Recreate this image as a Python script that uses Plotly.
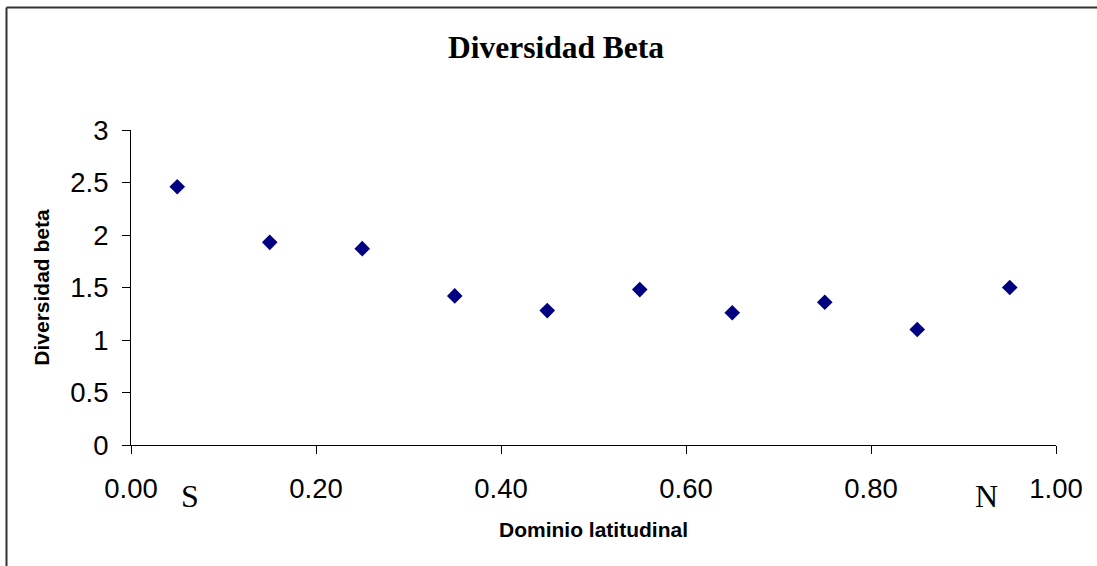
import plotly.graph_objects as go

# Latitudinal domain (class midpoints) and beta diversity values
dominio = [0.05, 0.15, 0.25, 0.35, 0.45, 0.55, 0.65, 0.75, 0.85, 0.95]
diversidad_beta = [2.46, 1.93, 1.87, 1.42, 1.28, 1.48, 1.26, 1.36, 1.10, 1.50]

x_ticks = [0.0, 0.2, 0.4, 0.6, 0.8, 1.0]
x_tick_labels = ["0.00", "0.20", "0.40", "0.60", "0.80", "1.00"]
y_ticks = [0, 0.5, 1, 1.5, 2, 2.5, 3]
y_tick_labels = ["0", "0.5", "1", "1.5", "2", "2.5", "3"]

W, H = 1097, 566
L, R, T, B = 131, 41, 130, 121
pw, ph = W - L - R, H - T - B


def px_x(p):
    return (p - L) / pw


def px_y(p):
    return (H - B - p) / ph


fig = go.Figure()
fig.add_trace(go.Scatter(
    x=dominio, y=diversidad_beta, mode="markers",
    marker=dict(symbol="diamond", size=12, color="#000080",
                line=dict(width=0)),
    showlegend=False, cliponaxis=False,
))

axis_font = dict(family="Liberation Sans, Arial", size=27.5, color="black")
title_font = dict(family="Liberation Sans, Arial", size=21, color="black")

fig.update_layout(
    width=W, height=H,
    margin=dict(l=L, r=R, t=T, b=B),
    paper_bgcolor="white", plot_bgcolor="white",
    title=dict(text="<b>Diversidad Beta</b>", x=px_x(556), xref="paper",
               y=1 - 47 / H, yref="container", xanchor="center", yanchor="middle",
               font=dict(family="Liberation Serif, Times New Roman", size=31.5, color="black")),
    xaxis=dict(range=[0, 1], tickvals=x_ticks, ticktext=x_tick_labels,
               showgrid=False, zeroline=False, showline=True, linecolor="black",
               linewidth=1, ticks="outside", ticklen=8, tickcolor="black",
               tickfont=axis_font, ticklabelstandoff=11,
               title=dict(text="<b>Dominio latitudinal</b>", standoff=19, font=title_font)),
    yaxis=dict(range=[0, 3], tickvals=y_ticks, ticktext=y_tick_labels,
               showgrid=False, zeroline=False, showline=True, linecolor="black",
               linewidth=1, ticks="outside", ticklen=8, tickcolor="black",
               tickfont=axis_font, ticklabelstandoff=8,
               title=dict(text="<b>Diversidad beta</b>", standoff=14, font=title_font)),
)

# Outer frame lines (top and left)
frame = dict(color="#333333", width=2)
fig.add_shape(type="line", xref="paper", yref="paper",
              x0=px_x(6.5), x1=px_x(W + 5), y0=px_y(7.5), y1=px_y(7.5), line=frame)
fig.add_shape(type="line", xref="paper", yref="paper",
              x0=px_x(6.5), x1=px_x(6.5), y0=px_y(7.5), y1=px_y(H + 5), line=frame)

# Direction markers along the latitudinal axis
for txt, cx in (("S", 190), ("N", 986)):
    fig.add_annotation(text=txt, x=px_x(cx), y=px_y(496), xref="paper", yref="paper",
                       showarrow=False, xanchor="center", yanchor="middle",
                       font=dict(family="Liberation Serif, Times New Roman", size=32, color="black"))

fig.write_html("out.html")
